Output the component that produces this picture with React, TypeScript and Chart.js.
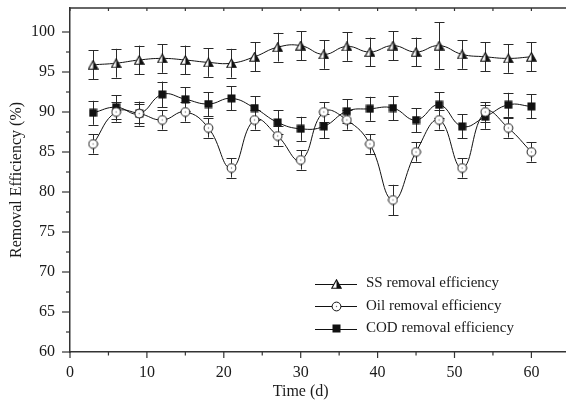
import { useEffect, useRef } from "react";
import { Chart, registerables } from "chart.js";

Chart.register(...registerables);

// ---- data ----
const days = [3, 6, 9, 12, 15, 18, 21, 24, 27, 30, 33, 36, 39, 42, 45, 48, 51, 54, 57, 60];
const ssValues = [95.9, 96.1, 96.5, 96.7, 96.5, 96.2, 96.1, 96.9, 98.1, 98.3, 97.2, 98.2, 97.5, 98.3, 97.5, 98.3, 97.2, 96.9, 96.7, 96.9];
const ssErrors = [1.8, 1.8, 1.8, 1.8, 1.8, 1.8, 1.8, 1.8, 1.8, 1.8, 1.8, 1.8, 1.8, 1.8, 1.8, 2.9, 1.8, 1.8, 1.8, 1.8];
const oilValues = [86, 90, 89.8, 89, 90, 88, 83, 89, 87, 84, 90, 89, 86, 79, 85, 89, 83, 90, 88, 85];
const oilErrors = [1.2, 1.2, 1.2, 1.2, 1.2, 1.2, 1.2, 1.2, 1.2, 1.2, 1.2, 1.2, 1.2, 1.9, 1.2, 1.2, 1.2, 1.2, 1.2, 1.2];
const codValues = [89.9, 90.6, 89.8, 92.2, 91.6, 91.0, 91.7, 90.5, 88.7, 87.9, 88.2, 90.1, 90.4, 90.5, 89.0, 90.9, 88.2, 89.4, 90.9, 90.7];
const codErrors = [1.5, 1.5, 1.5, 1.6, 1.5, 1.5, 1.5, 1.5, 1.5, 1.5, 1.5, 1.5, 1.5, 1.5, 1.5, 1.6, 1.5, 1.5, 1.5, 1.5];
const seriesNames = ["SS removal efficiency", "Oil removal efficiency", "COD removal efficiency"];
const xTickValues = [0, 5, 10, 15, 20, 25, 30, 35, 40, 45, 50, 55, 60];
const yTickValues = [60, 62.5, 65, 67.5, 70, 72.5, 75, 77.5, 80, 82.5, 85, 87.5, 90, 92.5, 95, 97.5, 100];
const xTitle = "Time (d)";
const yTitle = "Removal Efficiency (%)";

const FONT = "'Liberation Serif', 'Times New Roman', serif";
const INK = "#1a1a1a";
const AXIS = "#333";

function makeTriangle() {
  const c = document.createElement("canvas");
  c.width = 11;
  c.height = 10;
  const g = c.getContext("2d")!;
  g.beginPath();
  g.moveTo(5.5, 0.8);
  g.lineTo(10.2, 9.2);
  g.lineTo(0.8, 9.2);
  g.closePath();
  g.fillStyle = "#fff";
  g.fill();
  g.save();
  g.clip();
  g.fillStyle = "#111";
  g.fillRect(5.5, 0, 6, 10);
  g.restore();
  g.strokeStyle = "#111";
  g.lineWidth = 1.1;
  g.stroke();
  return c;
}

function makeCircle() {
  const c = document.createElement("canvas");
  c.width = 11;
  c.height = 11;
  const g = c.getContext("2d")!;
  g.beginPath();
  g.arc(5.5, 5.5, 4.4, 0, Math.PI * 2);
  g.fillStyle = "#fff";
  g.fill();
  g.strokeStyle = "#111";
  g.lineWidth = 1;
  g.stroke();
  g.beginPath();
  g.arc(5.5, 5.5, 0.7, 0, Math.PI * 2);
  g.fillStyle = "#777";
  g.fill();
  return c;
}

function makeSquare() {
  const c = document.createElement("canvas");
  c.width = 9;
  c.height = 9;
  const g = c.getContext("2d")!;
  g.fillStyle = "#111";
  g.fillRect(0.5, 0.5, 8, 8);
  return c;
}

export default function App() {
  const ref = useRef<HTMLCanvasElement>(null);

  useEffect(() => {
    document.body.style.margin = "0";
    const markers = [makeTriangle(), makeCircle(), makeSquare()];
    const values = [ssValues, oilValues, codValues];
    const errors = [ssErrors, oilErrors, codErrors];

    const errorBars = {
      id: "errorBars",
      beforeDatasetsDraw(chart: any) {
        const ctx = chart.ctx;
        const ys = chart.scales.y;
        ctx.save();
        ctx.strokeStyle = "#2a2a2a";
        ctx.lineWidth = 1;
        chart.data.datasets.forEach((ds: any, di: number) => {
          const meta = chart.getDatasetMeta(di);
          meta.data.forEach((pt: any, i: number) => {
            const v = values[di][i];
            const e = errors[di][i];
            const x = Math.round(pt.x) + 0.5;
            const y1 = ys.getPixelForValue(v + e);
            const y2 = ys.getPixelForValue(v - e);
            ctx.beginPath();
            ctx.moveTo(x, y1);
            ctx.lineTo(x, y2);
            ctx.moveTo(x - 5, Math.round(y1) + 0.5);
            ctx.lineTo(x + 5, Math.round(y1) + 0.5);
            ctx.moveTo(x - 5, Math.round(y2) + 0.5);
            ctx.lineTo(x + 5, Math.round(y2) + 0.5);
            ctx.stroke();
          });
        });
        ctx.restore();
      },
    };

    const decorations = {
      id: "decorations",
      afterDraw(chart: any) {
        const ctx = chart.ctx;
        const xs = chart.scales.x;
        const ys = chart.scales.y;
        const area = chart.chartArea;
        ctx.save();
        ctx.strokeStyle = AXIS;
        ctx.lineWidth = 1.2;
        // x ticks
        xTickValues.forEach((v) => {
          const x = xs.getPixelForValue(v);
          const major = v % 10 === 0;
          ctx.beginPath();
          ctx.moveTo(x, area.bottom);
          ctx.lineTo(x, area.bottom + (major ? 6 : 3.5));
          ctx.stroke();
          // inward ticks on top border
          ctx.beginPath();
          ctx.moveTo(x, area.top);
          ctx.lineTo(x, area.top + 3);
          ctx.stroke();
        });
        // y ticks
        yTickValues.forEach((v) => {
          const y = ys.getPixelForValue(v);
          const major = v % 5 === 0;
          ctx.beginPath();
          ctx.moveTo(area.left - (major ? 8 : 4), y);
          ctx.lineTo(area.left, y);
          ctx.stroke();
        });
        // top border
        ctx.lineWidth = 1.5;
        ctx.beginPath();
        ctx.moveTo(area.left, area.top);
        ctx.lineTo(area.right, area.top);
        ctx.stroke();

        // titles
        ctx.fillStyle = INK;
        ctx.font = `16px ${FONT}`;
        ctx.textAlign = "center";
        ctx.textBaseline = "middle";
        ctx.fillText(xTitle, xs.getPixelForValue(30), 392);
        ctx.save();
        ctx.translate(17, (area.top + area.bottom) / 2);
        ctx.rotate(-Math.PI / 2);
        ctx.fillText(yTitle, 0, 0);
        ctx.restore();

        // legend
        ctx.font = `15px ${FONT}`;
        ctx.textAlign = "left";
        seriesNames.forEach((name, i) => {
          const y = 283.5 + i * 22.5;
          ctx.strokeStyle = "#111";
          ctx.lineWidth = 1;
          ctx.beginPath();
          ctx.moveTo(315, Math.round(y) + 0.5);
          ctx.lineTo(357, Math.round(y) + 0.5);
          ctx.stroke();
          const m = markers[i];
          ctx.drawImage(m, Math.round(336 - m.width / 2), Math.round(y - m.height / 2));
          ctx.fillStyle = INK;
          ctx.fillText(name, 366, y);
        });
        ctx.restore();
      },
    };

    const mkData = (arr: number[]) => days.map((d, i) => ({ x: d, y: arr[i] }));

    const chart = new Chart(ref.current!, {
      type: "line",
      data: {
        datasets: [0, 1, 2].map((i) => ({
          label: seriesNames[i],
          data: mkData(values[i]),
          borderColor: "#111",
          borderWidth: 1,
          backgroundColor: "#111",
          pointStyle: markers[i] as any,
          pointRadius: 5,
          tension: 0.45,
          fill: false,
        })),
      },
      options: {
        animation: false,
        responsive: false,
        events: [],
        layout: { autoPadding: false, padding: { top: 8, left: 0, right: 0, bottom: 0 } },
        plugins: {
          legend: { display: false },
          tooltip: { enabled: false },
        },
        scales: {
          x: {
            type: "linear",
            min: 0,
            max: 64.5,
            afterBuildTicks: (s: any) => {
              s.ticks = xTickValues.map((v) => ({ value: v }));
            },
            afterFit: (s: any) => {
              s.height = 53;
              s.paddingLeft = 0;
              s.paddingRight = 0;
            },
            ticks: {
              autoSkip: false,
              maxRotation: 0,
              padding: 5,
              color: INK,
              font: { family: FONT, size: 16 },
              callback: (v: any) => (Number(v) % 10 === 0 ? String(v) : ""),
            },
            grid: { display: false, tickLength: 6 },
            border: { display: true, color: AXIS, width: 1.5 },
          },
          y: {
            type: "linear",
            min: 60,
            max: 103,
            afterBuildTicks: (s: any) => {
              s.ticks = yTickValues.map((v) => ({ value: v }));
            },
            afterFit: (s: any) => {
              s.width = 70;
              s.paddingTop = 0;
              s.paddingBottom = 0;
            },
            ticks: {
              autoSkip: false,
              padding: 7,
              color: INK,
              font: { family: FONT, size: 16 },
              callback: (v: any) => (Number(v) % 5 === 0 ? String(v) : ""),
            },
            grid: { display: false, tickLength: 8 },
            border: { display: true, color: AXIS, width: 1.5 },
          },
        },
      },
      plugins: [errorBars, decorations],
    });

    return () => chart.destroy();
  }, []);

  return (
    <div style={{ width: 566, height: 405, overflow: "hidden" }}>
      <canvas ref={ref} width={566} height={405} style={{ display: "block" }} />
    </div>
  );
}
